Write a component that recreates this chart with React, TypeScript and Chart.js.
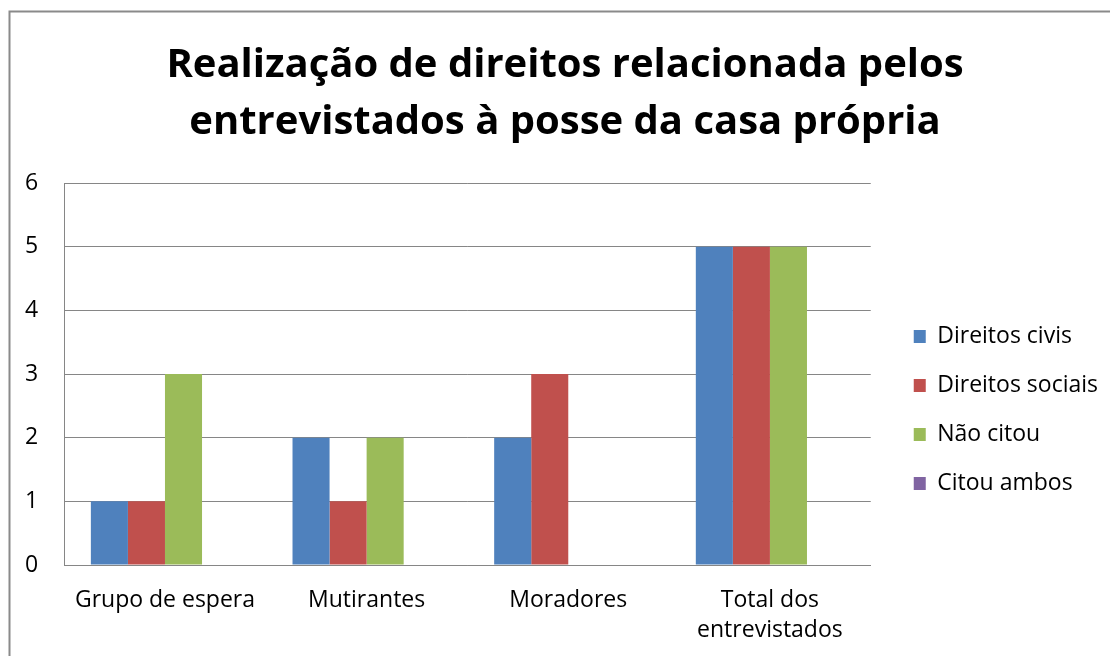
import React, { useEffect, useRef } from "react";
import { Chart, registerables } from "chart.js";

Chart.register(...registerables);

const titleLines = ["Realização de direitos relacionada pelos", "entrevistados à posse da casa própria"];
const categories: (string | string[])[] = ["Grupo de espera", "Mutirantes", "Moradores", ["Total dos", "entrevistados"]];
const seriesNames = ["Direitos civis", "Direitos sociais", "Não citou", "Citou ambos"];
const direitosCivis = [1, 2, 2, 5];
const direitosSociais = [1, 1, 3, 5];
const naoCitou = [3, 2, 0, 5];
const citouAmbos = [0, 0, 0, 0];
const seriesColors = ["#4F81BD", "#C0504D", "#9BBB59", "#8064A2"];
const yMin = 0;
const yMax = 6;
const yStep = 1;

const FONT = "'Open Sans', 'Liberation Sans', sans-serif";
const GRID = "#868686";

const framePlugin = {
  id: "frame",
  beforeDraw(chart: any) {
    const { ctx, width, height } = chart;
    ctx.save();
    ctx.fillStyle = "#ffffff";
    ctx.fillRect(0, 0, width, height);
    ctx.strokeStyle = "#8a8a8a";
    ctx.lineWidth = 2;
    ctx.beginPath();
    ctx.moveTo(9.5, height + 5);
    ctx.lineTo(9.5, 11.5);
    ctx.lineTo(width + 5, 11.5);
    ctx.stroke();
    ctx.restore();
  },
};

// Excel-like gaps: legend a bit away from the plot, title centred on the whole frame
const boxOffsetPlugin = {
  id: "boxOffset",
  afterLayout(chart: any) {
    const lg = chart.legend;
    if (lg) {
      const dx = 17;
      const dy = 36;
      lg.left += dx;
      lg.right += dx;
      lg.top += dy;
      lg.bottom += dy;
    }
    const tb = chart.titleBlock;
    if (tb) {
      const tdx = 20;
      tb.left += tdx;
      tb.right += tdx;
    }
  },
};

export default function App() {
  const ref = useRef<HTMLCanvasElement | null>(null);

  useEffect(() => {
    if (!ref.current) return;
    const allSeries = [direitosCivis, direitosSociais, naoCitou, citouAmbos];
    const chart = new Chart(ref.current, {
      type: "bar",
      data: {
        labels: categories as any,
        datasets: allSeries.map((d, i) => ({
          label: seriesNames[i],
          data: d,
          backgroundColor: seriesColors[i],
          borderColor: seriesColors[i],
          borderWidth: 0,
          categoryPercentage: 0.735,
          barPercentage: 1,
        })),
      },
      options: {
        responsive: false,
        animation: false,
        layout: { padding: { left: -1, top: 10, right: 19, bottom: -9 } },
        plugins: {
          title: {
            display: true,
            text: titleLines,
            color: "#000",
            font: { family: FONT, size: 40, weight: "bold", lineHeight: 1.425 },
            padding: { top: 27, bottom: 32 },
          },
          legend: {
            position: "right",
            align: "center",
            fullSize: false,
            maxWidth: 300,
            labels: {
              boxWidth: 12,
              boxHeight: 13,
              padding: 26,
              color: "#000",
              font: { family: FONT, size: 23 },
            },
          },
          tooltip: { enabled: false },
        },
        scales: {
          x: {
            grid: { display: false, drawTicks: false },
            border: { display: true, color: GRID, width: 1 },
            ticks: {
              color: "#000",
              font: { family: FONT, size: 23, lineHeight: 1.304 },
              padding: 20,
              maxRotation: 0,
              autoSkip: false,
            },
          },
          y: {
            min: yMin,
            max: yMax,
            ticks: {
              stepSize: yStep,
              color: "#000",
              font: { family: FONT, size: 23 },
              padding: 26,
            },
            grid: { color: GRID, drawTicks: false, lineWidth: 1 },
            border: { display: true, color: GRID, width: 1 },
          },
        },
      } as any,
      plugins: [framePlugin, boxOffsetPlugin],
    });
    return () => chart.destroy();
  }, []);

  return (
    <div style={{ position: "absolute", left: 0, top: 0, width: 1110, height: 656 }}>
      <canvas ref={ref} width={1110} height={656} style={{ display: "block" }} />
    </div>
  );
}
